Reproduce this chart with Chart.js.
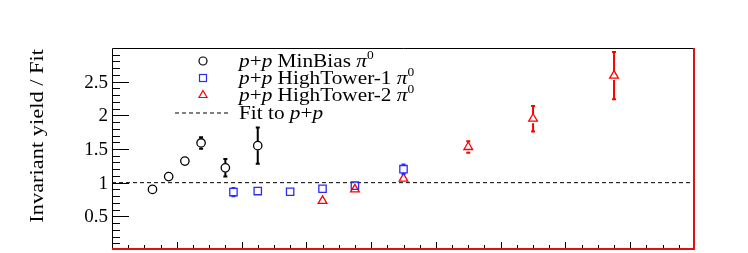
<!DOCTYPE html>
<html>
<head>
<meta charset="utf-8">
<script src="https://cdn.jsdelivr.net/npm/chart.js@4.4.0/dist/chart.umd.min.js"></script>
<style>
  html, body { margin: 0; padding: 0; background: #fff; }
  canvas { display: block; }
</style>
</head>
<body>
<canvas id="ratioChart" width="748" height="253"></canvas>
<script>
// p+p MinBias
const mbX = [1.25, 1.75, 2.25, 2.75, 3.5, 4.5];
const mbY = [0.90, 1.09, 1.32, 1.59, 1.22, 1.55];
const mbErr = [0.02, 0.02, 0.02, 0.085, 0.13, 0.27];
// p+p HighTower-1
const ht1X = [3.75, 4.5, 5.5, 6.5, 7.5, 9.0];
const ht1Y = [0.86, 0.875, 0.865, 0.91, 0.955, 1.20];
const ht1Err = [0.062, 0.02, 0.02, 0.02, 0.02, 0.07];
// p+p HighTower-2
const ht2X = [6.5, 7.5, 9.0, 11.0, 13.0, 15.5];
const ht2Y = [0.73, 0.90, 1.06, 1.53, 1.95, 2.59];
const ht2Err = [0.02, 0.04, 0.04, 0.085, 0.19, 0.35];
// fit
const fitX = [0, 18];
const fitY = [1, 1];

const yTicks = [0.5, 1, 1.5, 2, 2.5];

const pts = (xs, ys) => xs.map((x, i) => ({ x: x, y: ys[i] }));
const SERIF = '"Liberation Serif", "DejaVu Serif", serif';
const BLUE = '#2a2aff';
const RED = '#ff0000';

// text is stretched a little to get closer to the wide TeX font of the original
function drawRich(ctx, x, y, parts, size, sx) {
  ctx.save();
  ctx.translate(x, y);
  ctx.scale(sx, 1);
  let cx = 0;
  parts.forEach(p => {
    const sz = p.sup ? Math.round(size * 0.62) : size;
    ctx.font = (p.i ? 'italic ' : '') + sz + 'px ' + SERIF;
    ctx.fillText(p.t, cx, p.sup ? -size * 0.42 : 0);
    cx += ctx.measureText(p.t).width;
  });
  ctx.restore();
}

const errBars = [
  { idx: 0, err: mbErr, color: '#000', r: 4.5 },
  { idx: 1, err: ht1Err, color: BLUE, r: 3.7 },
  { idx: 2, err: ht2Err, color: RED, r: 4.5 }
];

const rootStyle = {
  id: 'rootStyle',
  afterDatasetsDraw(chart) {
    const { ctx, chartArea: a, scales: { x, y } } = chart;
    ctx.save();

    // error bars, only where they stick out of the marker
    errBars.forEach(eb => {
      const meta = chart.getDatasetMeta(eb.idx);
      const ds = chart.data.datasets[eb.idx].data;
      ctx.strokeStyle = eb.color;
      ctx.lineWidth = 2;
      meta.data.forEach((el, i) => {
        const px = el.x, py = el.y;
        const t = y.getPixelForValue(ds[i].y + eb.err[i]);
        const b = y.getPixelForValue(ds[i].y - eb.err[i]);
        if (py - t <= eb.r) return;
        ctx.beginPath();
        ctx.moveTo(px, t); ctx.lineTo(px, py - eb.r);
        ctx.moveTo(px, py + eb.r); ctx.lineTo(px, b);
        ctx.moveTo(px - 2, t); ctx.lineTo(px + 2, t);
        ctx.moveTo(px - 2, b); ctx.lineTo(px + 2, b);
        ctx.stroke();
      });
    });

    // frame
    ctx.lineWidth = 1;
    ctx.strokeStyle = '#000';
    ctx.beginPath();
    ctx.moveTo(a.left + 0.5, a.bottom);
    ctx.lineTo(a.left + 0.5, a.top + 0.5);
    ctx.lineTo(a.right, a.top + 0.5);
    ctx.stroke();
    ctx.strokeStyle = '#e01010';
    ctx.lineWidth = 2;
    ctx.beginPath();
    ctx.moveTo(a.right - 1, a.top);
    ctx.lineTo(a.right - 1, a.bottom - 1);
    ctx.lineTo(a.left, a.bottom - 1);
    ctx.stroke();

    // y ticks, inside
    ctx.strokeStyle = '#000';
    ctx.lineWidth = 1;
    ctx.beginPath();
    for (let k = 1; k < 30; k++) {
      const py = Math.round(y.getPixelForValue(k / 10)) + 0.5;
      const len = k % 5 === 0 ? 17 : 8;
      ctx.moveTo(a.left, py);
      ctx.lineTo(a.left + len, py);
    }
    // x ticks, inside
    for (let k = 1; k < 36; k++) {
      const px = Math.round(x.getPixelForValue(k / 2)) + 0.5;
      const len = k % 4 === 0 ? 6 : 3;
      ctx.moveTo(px, a.bottom - 2);
      ctx.lineTo(px, a.bottom - 2 - len);
    }
    ctx.stroke();

    // y tick labels
    ctx.fillStyle = '#000';
    ctx.font = '19px ' + SERIF;
    ctx.textAlign = 'right';
    ctx.textBaseline = 'middle';
    yTicks.forEach(v => {
      ctx.fillText(String(v), a.left - 4, y.getPixelForValue(v) + 1);
    });

    // y title
    ctx.save();
    ctx.translate(43, a.top + 1);
    ctx.rotate(-Math.PI / 2);
    ctx.scale(1.18, 1);
    ctx.font = '19px ' + SERIF;
    ctx.textAlign = 'right';
    ctx.textBaseline = 'alphabetic';
    ctx.fillText('Invariant yield / Fit', 0, 0);
    ctx.restore();

    // legend
    const lx = 203, tx = 239;
    const rows = [61, 78, 95, 112.5];
    const fs = 19, sx = 1.12;
    ctx.lineWidth = 1.2;
    ctx.strokeStyle = '#000';
    ctx.beginPath(); ctx.arc(lx, rows[0], 4, 0, Math.PI * 2); ctx.stroke();
    ctx.strokeStyle = BLUE;
    ctx.strokeRect(lx - 3.5, rows[1] - 3.5, 7, 7);
    ctx.strokeStyle = RED;
    ctx.beginPath();
    ctx.moveTo(lx, rows[2] - 4.5); ctx.lineTo(lx + 4, rows[2] + 2.5); ctx.lineTo(lx - 4, rows[2] + 2.5); ctx.closePath();
    ctx.stroke();
    ctx.strokeStyle = '#000';
    ctx.lineWidth = 1;
    ctx.setLineDash([4, 3]);
    ctx.beginPath(); ctx.moveTo(175, rows[3] + 0.5); ctx.lineTo(228, rows[3] + 0.5); ctx.stroke();
    ctx.setLineDash([]);

    ctx.textBaseline = 'alphabetic';
    ctx.textAlign = 'left';
    const pp = [{ t: 'p', i: true }, { t: '+' }, { t: 'p', i: true }];
    const pi0 = [{ t: 'π', i: true }, { t: '0', sup: true }];
    drawRich(ctx, tx, rows[0] + 6, pp.concat([{ t: ' MinBias ' }], pi0), fs, sx);
    drawRich(ctx, tx, rows[1] + 6, pp.concat([{ t: ' HighTower-1 ' }], pi0), fs, sx);
    drawRich(ctx, tx, rows[2] + 6, pp.concat([{ t: ' HighTower-2 ' }], pi0), fs, sx);
    drawRich(ctx, tx, rows[3] + 6, [{ t: 'Fit to ' }].concat(pp), fs, sx);

    ctx.restore();
  }
};

new Chart(document.getElementById('ratioChart').getContext('2d'), {
  type: 'scatter',
  data: {
    datasets: [
      {
        label: 'p+p MinBias',
        data: pts(mbX, mbY),
        pointStyle: 'circle',
        pointRadius: 4.2,
        borderColor: '#000',
        backgroundColor: 'rgba(0,0,0,0)',
        borderWidth: 1.3
      },
      {
        label: 'p+p HighTower-1',
        data: pts(ht1X, ht1Y),
        pointStyle: 'rect',
        pointRadius: 5.2,
        borderColor: BLUE,
        backgroundColor: 'rgba(0,0,0,0)',
        borderWidth: 1.3
      },
      {
        label: 'p+p HighTower-2',
        data: pts(ht2X, ht2Y),
        pointStyle: 'triangle',
        pointRadius: 5,
        borderColor: RED,
        backgroundColor: 'rgba(0,0,0,0)',
        borderWidth: 1.3
      },
      {
        type: 'line',
        label: 'Fit to p+p',
        data: pts(fitX, fitY),
        borderColor: '#000',
        borderWidth: 1,
        borderDash: [4, 3],
        pointRadius: 0,
        fill: false
      }
    ]
  },
  options: {
    responsive: false,
    animation: false,
    layout: { autoPadding: false, padding: { left: 112, top: 48, right: 53, bottom: 3 } },
    plugins: { legend: { display: false }, tooltip: { enabled: false } },
    scales: {
      x: { type: 'linear', display: false, min: 0, max: 18 },
      y: { display: false, min: 0, max: 3 }
    }
  },
  plugins: [rootStyle]
});
</script>
</body>
</html>
